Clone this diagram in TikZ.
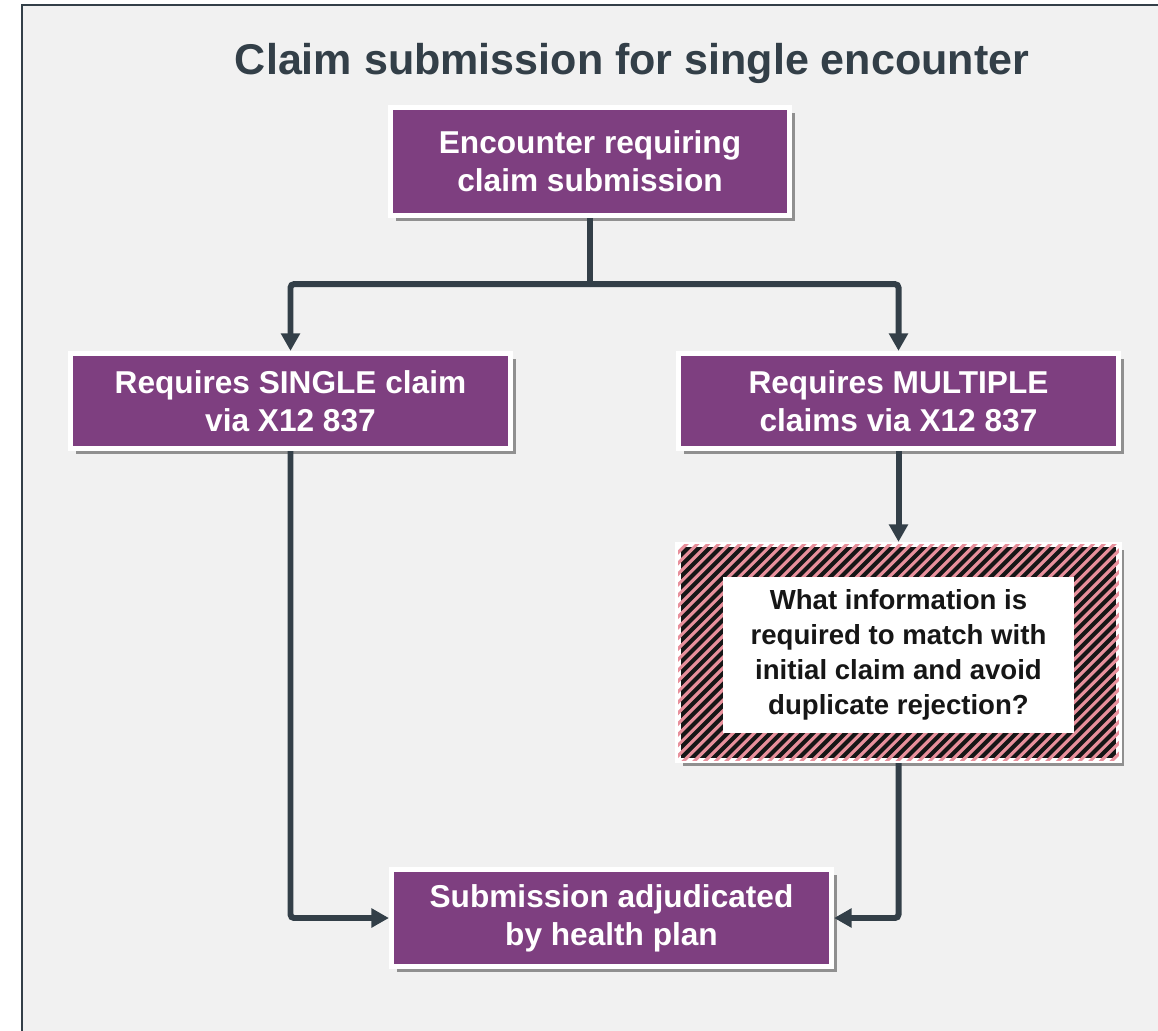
\documentclass[tikz,border=0pt]{standalone}
\usepackage{fontspec}
\setmainfont{Liberation Sans}
\usepackage{xcolor}
\usepackage{tikz}
\usetikzlibrary{positioning,arrows.meta,calc,shadows}
\definecolor{plum}{HTML}{7E3F80}
\definecolor{slate}{HTML}{333F48}
\definecolor{panel}{HTML}{F1F1F1}
\definecolor{stripe}{HTML}{E8909C}
\definecolor{ink}{HTML}{161616}

\begin{document}
\begin{tikzpicture}[x=0.02cm, y=-0.02cm, font=\bfseries,
  box/.style={draw=white, fill=plum, text=white, line width=3pt, align=center, inner sep=0pt, minimum width=8.8cm, minimum height=1.9cm, font=\fontsize{18}{21.5}\selectfont\bfseries, drop shadow={shadow xshift=3pt, shadow yshift=-3pt, fill=black, opacity=.4}},
  link/.style={draw=slate, line width=3.4pt, rounded corners=2pt},
  arr/.style={link, -{Triangle[length=10pt, width=10.5pt]}}]
\clip (0,0) rectangle (1158,1030);
\fill[white] (0,0) rectangle (1158,1030);
\filldraw[fill=panel, draw=slate, line width=1.1pt] (22,5) rectangle (1200,1080);
\node[anchor=base, text=slate, font=\fontsize{24.5}{29}\selectfont\bfseries] (title) at (632,75) {Claim submission for single encounter};
\node[box, minimum width=7.98cm, minimum height=2.16cm] (enc) at (590,161.5) {Encounter requiring\\claim submission};
\node[box] (single) at (290.5,401) {Requires SINGLE claim\\via X12 837};
\node[box] (multi) at (898.5,401) {Requires MULTIPLE\\claims via X12 837};
\node[box, fill=ink, minimum width=8.82cm, minimum height=4.32cm] (gap) at (898.5,652.5) {};
\begin{scope}
  \clip ($(gap.south west)+(1.5pt,1.5pt)$) rectangle ($(gap.north east)-(1.5pt,1.5pt)$);
  \foreach \k in {0,...,66}
    \draw[stripe, line width=1.8pt] ($(gap.south west)+(\k*10.7-240,0)$) -- ++(260,-260);
\end{scope}
\node[fill=white, text=ink, align=center, inner sep=0pt, minimum width=7.02cm, minimum height=3.12cm, font=\fontsize{15.7}{19.8}\selectfont\bfseries] (question) at (898.5,655) {What information is\\required to match with\\initial claim and avoid\\duplicate rejection?};
\node[box, minimum height=1.94cm] (adj) at (611.5,918) {Submission adjudicated\\by health plan};
\coordinate (split) at ($(enc.south)+(0,66)$);
\draw[link] (enc.south) -- (split);
\draw[arr] (split) -| (single.north);
\draw[arr] (split) -| (multi.north);
\draw[arr] (multi.south) -- (gap.north);
\draw[arr] (single.south) |- (adj.west);
\draw[arr] (gap.south) |- (adj.east);
\end{tikzpicture}
\end{document}
